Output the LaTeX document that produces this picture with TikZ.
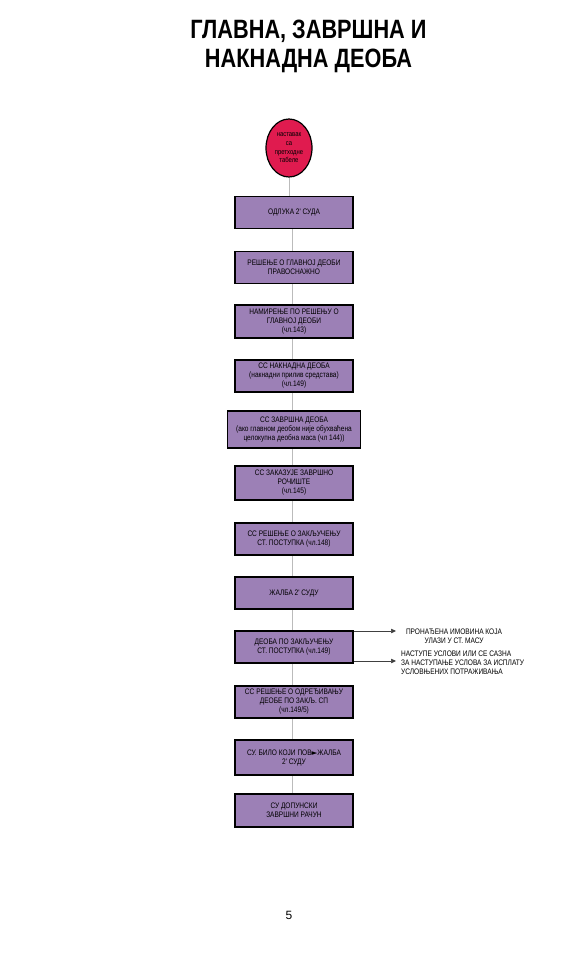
\documentclass[tikz,border=0pt]{standalone}
\usepackage{fontspec}
\setmainfont{Liberation Sans}
\newfontfamily\nar{Liberation Sans}[FakeStretch=0.82]
\newfontfamily\djfont{DejaVu Sans}
\usetikzlibrary{arrows.meta,shapes.geometric,backgrounds}
\definecolor{boxfill}{HTML}{9C80B6}
\definecolor{circfill}{HTML}{E01B4F}
\definecolor{vline}{HTML}{BBBBBB}
\tikzset{
  stepbox/.style={draw=black, line width=1.6pt, fill=boxfill, minimum width=118pt, minimum height=32pt, inner sep=1pt, align=center, font=\nar\fontsize{8}{9}\selectfont},
  startnode/.style={draw=black, line width=1.2pt, fill=circfill, ellipse, minimum width=46pt, minimum height=58pt, inner sep=0pt, align=center, font=\nar\fontsize{7.2}{8.7}\selectfont},
  flow/.style={draw=vline, line width=0.8pt},
  side/.style={draw=black!75, line width=0.5pt, -{Triangle[length=5pt,width=4.5pt]}},
  sidetext/.style={font=\nar\fontsize{8}{9}\selectfont, inner sep=0pt},
}
\begin{document}
\begin{tikzpicture}[x=1pt,y=-1pt]
\path[use as bounding box] (0,0) rectangle (581,964);
\node[font=\nar\bfseries\fontsize{26.5}{29}\selectfont, align=center, inner sep=0pt] (title) at (308.5,46) {ГЛАВНА, ЗАВРШНА И\\НАКНАДНА ДЕОБА};
\node[startnode] (c) at (289,148) {наставак\\са\\претходне\\табеле};
\node[stepbox] (b1) at (294,212.5) {ОДЛУКА 2' СУДА};
\node[stepbox] (b2) at (294,267.5) {РЕШЕЊЕ О ГЛАВНОЈ ДЕОБИ\\ПРАВОСНАЖНО};
\node[stepbox, minimum height=33pt] (b3) at (294,321.5) {НАМИРЕЊЕ ПО РЕШЕЊУ О\\ГЛАВНОЈ ДЕОБИ\\(чл.143)};
\node[stepbox] (b4) at (294,376) {СС НАКНАДНА ДЕОБА\\(накнадни прилив средстава)\\(чл.149)};
\node[stepbox, minimum width=133pt, minimum height=37pt] (b5) at (294,429.5) {СС ЗАВРШНА ДЕОБА\\(ако главном деобом није обухваћена\\целокупна деобна маса (чл 144))};
\node[stepbox, minimum height=34pt] (b6) at (294,483) {СС ЗАКАЗУЈЕ ЗАВРШНО\\РОЧИШТЕ\\(чл.145)};
\node[stepbox] (b7) at (294,539) {СС РЕШЕЊЕ О ЗАКЉУЧЕЊУ\\СТ. ПОСТУПКА (чл.148)};
\node[stepbox] (b8) at (294,593) {ЖАЛБА 2' СУДУ};
\node[stepbox] (b9) at (294,647) {ДЕОБА ПО ЗАКЉУЧЕЊУ\\СТ. ПОСТУПКА (чл.149)};
\node[stepbox] (b10) at (294,702) {СС РЕШЕЊЕ О ОДРЕЂИВАЊУ\\ДЕОБЕ ПО ЗАКЉ. СП\\(чл.149/5)};
\node[stepbox, minimum height=35pt] (b11) at (294,757.5) {СУ. БИЛО КОЈИ ПОВ{\djfont\fontsize{7.5}{9}\selectfont ►}ЖАЛБА\\2' СУДУ};
\node[stepbox, minimum height=33pt] (b12) at (294,810.5) {СУ ДОПУНСКИ\\ЗАВРШНИ РАЧУН};
\begin{scope}[on background layer]
\draw[flow] (c.south) -- (c.south |- b1.north);
\foreach \a/\b in {b1/b2,b2/b3,b3/b4,b4/b5,b5/b6,b6/b7,b7/b8,b8/b9,b9/b10,b10/b11,b11/b12}
  \draw[flow] ([xshift=-2pt]\a.south) -- ([xshift=-2pt]\b.north);
\end{scope}
\node[sidetext, align=center] (t1) at (454,636) {ПРОНАЂЕНА ИМОВИНА КОЈА\\УЛАЗИ У СТ. МАСУ};
\node[sidetext, align=left, anchor=west] (t2) at (401,663) {НАСТУПЕ УСЛОВИ ИЛИ СЕ САЗНА\\ЗА НАСТУПАЊЕ УСЛОВА ЗА ИСПЛАТУ\\УСЛОВЊЕНИХ ПОТРАЖИВАЊА};
\coordinate (a1) at (396,631);
\coordinate (a2) at (396,661);
\draw[side] (b9.east |- a1) -- (a1);
\draw[side] (b9.east |- a2) -- (a2);
\node[font=\fontsize{12}{14}\selectfont, inner sep=0pt] (pg) at (289,915) {5};
\end{tikzpicture}
\end{document}
